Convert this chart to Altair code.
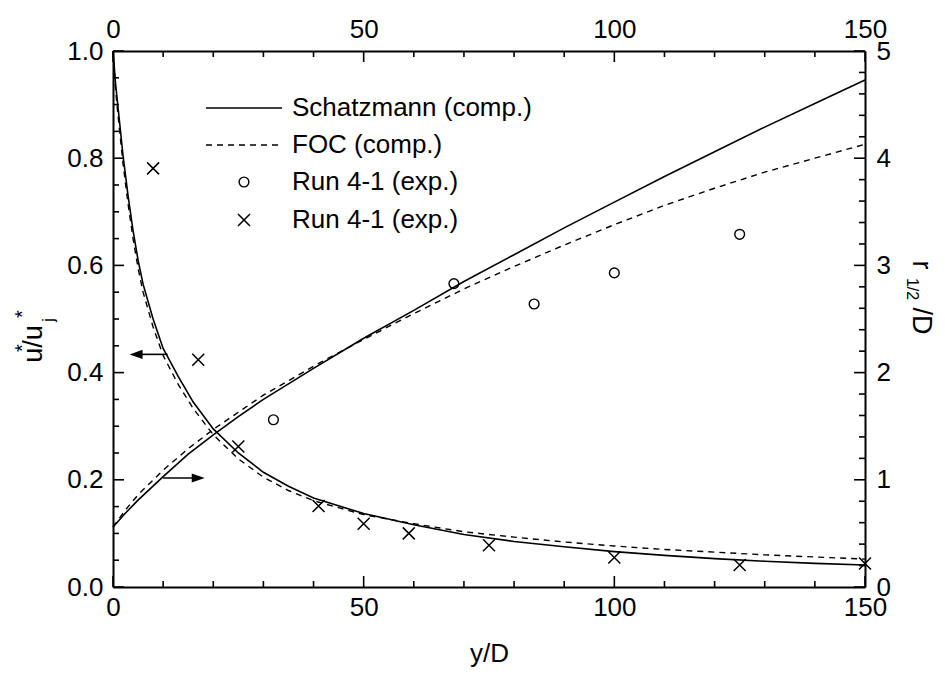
import altair as alt
import pandas as pd

FONT = "Liberation Sans"

# ---- data ----
x_decay = [0, 0.5, 1, 2, 3, 4, 5, 6, 8, 10, 13, 16, 20, 25, 30, 35, 40, 50, 60, 70, 80, 90, 100, 110, 120, 130, 140, 150]
schatz_u = [1.0, 0.94, 0.895, 0.805, 0.73, 0.665, 0.61, 0.565, 0.50, 0.445, 0.393, 0.345, 0.295, 0.25, 0.214, 0.188,
            0.166, 0.137, 0.116, 0.098, 0.085, 0.075, 0.066, 0.059, 0.053, 0.048, 0.044, 0.041]
foc_u = [1.0, 0.93, 0.88, 0.79, 0.715, 0.65, 0.595, 0.55, 0.485, 0.432, 0.378, 0.333, 0.284, 0.239, 0.205, 0.18,
         0.161, 0.135, 0.118, 0.103, 0.093, 0.084, 0.0765, 0.070, 0.065, 0.060, 0.056, 0.052]

x_grow = [0, 2.5, 5, 10, 15, 20, 25, 30, 40, 50, 60, 70, 80, 90, 100, 110, 120, 130, 140, 150]
schatz_r = [0.56, 0.69, 0.81, 1.03, 1.24, 1.42, 1.59, 1.75, 2.04, 2.32, 2.58, 2.85, 3.10, 3.35, 3.59, 3.83, 4.06,
            4.29, 4.51, 4.73]
foc_r = [0.56, 0.72, 0.86, 1.09, 1.29, 1.47, 1.63, 1.79, 2.06, 2.31, 2.55, 2.78, 2.99, 3.19, 3.38, 3.56, 3.72,
         3.87, 4.00, 4.13]

cross_x = [8, 17, 25, 41, 50, 59, 75, 100, 125, 150]
cross_u = [0.781, 0.424, 0.262, 0.151, 0.118, 0.100, 0.078, 0.055, 0.041, 0.044]
circ_x = [32, 68, 84, 100, 125]
circ_r = [1.56, 2.83, 2.64, 2.93, 3.29]

x_major = [0, 50, 100, 150]
x_minor = [10, 20, 30, 40, 60, 70, 80, 90, 110, 120, 130, 140]
yl_major = [0.0, 0.2, 0.4, 0.6, 0.8, 1.0]
yl_minor = [0.05, 0.1, 0.15, 0.25, 0.3, 0.35, 0.45, 0.5, 0.55, 0.65, 0.7, 0.75, 0.85, 0.9, 0.95]
yr_major = [0, 1, 2, 3, 4, 5]
yr_minor = [0.2, 0.4, 0.6, 0.8, 1.2, 1.4, 1.6, 1.8, 2.2, 2.4, 2.6, 2.8, 3.2, 3.4, 3.6, 3.8, 4.2, 4.4, 4.6, 4.8]

# arrows (annotation): left arrow on u-scale, right arrow on r-scale
arrowL_x = [10.9, 4.6]
arrowL_y = 0.434
arrowR_x = [10.0, 17.0]
arrowR_y = 1.017

legend_labels = ["Schatzmann (comp.)", "FOC (comp.)", "Run 4-1 (exp.)", "Run 4-1 (exp.)"]

W, H = 752, 536


def XS():
    return alt.Scale(domain=[0, 150], nice=False, zero=False)


def YL():
    return alt.Scale(domain=[0, 1], nice=False, zero=False)


def YR():
    return alt.Scale(domain=[0, 5], nice=False, zero=False)


AX = dict(grid=False, ticks=False, domain=True, domainColor="black", domainWidth=2,
          labelFont=FONT, labelFontSize=26, labelColor="black", labelOverlap=False, labelFlush=False)

df_dec = pd.DataFrame({"x": x_decay, "s": schatz_u, "f": foc_u})
df_gro = pd.DataFrame({"x": x_grow, "s": schatz_r, "f": foc_r})
df_cross = pd.DataFrame({"x": cross_x, "y": cross_u})
df_circ = pd.DataFrame({"x": circ_x, "y": circ_r})

layers = []

# decay curves (left axis, bottom axis)
layers.append(alt.Chart(df_dec).mark_line(color="black", strokeWidth=1.6).encode(
    x=alt.X("x:Q", scale=XS(), axis=alt.Axis(orient="bottom", values=x_major, format="d", labelPadding=7,
                                            title="y/D", titleFont=FONT, titleFontSize=26,
                                            titleFontWeight="normal", titleColor="black", titlePadding=20, **AX)),
    y=alt.Y("s:Q", scale=YL(), axis=alt.Axis(orient="left", values=yl_major, format=".1f", labelPadding=10,
                                            title=None, **AX)),
))
layers.append(alt.Chart(df_dec).mark_line(color="black", strokeWidth=1.4, strokeDash=[6, 5]).encode(
    x=alt.X("x:Q", scale=XS(), axis=None), y=alt.Y("f:Q", scale=YL(), axis=None)))

# growth curves (right axis, top axis)
layers.append(alt.Chart(df_gro).mark_line(color="black", strokeWidth=1.6).encode(
    x=alt.X("x:Q", scale=XS(), axis=alt.Axis(orient="top", values=x_major, format="d", labelPadding=9,
                                            title=None, **AX)),
    y=alt.Y("s:Q", scale=YR(), axis=alt.Axis(orient="right", values=yr_major, format="d", labelPadding=11,
                                            title=None, **AX)),
))
layers.append(alt.Chart(df_gro).mark_line(color="black", strokeWidth=1.4, strokeDash=[6, 5]).encode(
    x=alt.X("x:Q", scale=XS(), axis=None), y=alt.Y("f:Q", scale=YR(), axis=None)))

# experimental points
layers.append(alt.Chart(df_cross).mark_point(shape="M-1,-1L1,1M-1,1L1,-1", size=144, filled=False,
                                             color="black", strokeWidth=1.5, opacity=1).encode(
    x=alt.X("x:Q", scale=XS(), axis=None), y=alt.Y("y:Q", scale=YL(), axis=None)))
layers.append(alt.Chart(df_circ).mark_point(shape="circle", size=95, filled=False,
                                            color="black", strokeWidth=1.4, opacity=1).encode(
    x=alt.X("x:Q", scale=XS(), axis=None), y=alt.Y("y:Q", scale=YR(), axis=None)))

# arrows
dfAL = pd.DataFrame({"x": [arrowL_x[0]], "x2": [arrowL_x[1]], "y": [arrowL_y]})
dfAR = pd.DataFrame({"x": [arrowR_x[0]], "x2": [arrowR_x[1]], "y": [arrowR_y]})
layers.append(alt.Chart(dfAL).mark_rule(color="black", strokeWidth=1.6).encode(
    x=alt.X("x:Q", scale=XS(), axis=None), x2="x2:Q", y=alt.Y("y:Q", scale=YL(), axis=None)))
layers.append(alt.Chart(dfAL).mark_point(shape="M-1,0L1,-0.7L1,0.7Z", size=169, filled=True, color="black",
                                         opacity=1).encode(
    x=alt.X("x2:Q", scale=XS(), axis=None), y=alt.Y("y:Q", scale=YL(), axis=None)))
layers.append(alt.Chart(dfAR).mark_rule(color="black", strokeWidth=1.6).encode(
    x=alt.X("x:Q", scale=XS(), axis=None), x2="x2:Q", y=alt.Y("y:Q", scale=YR(), axis=None)))
layers.append(alt.Chart(dfAR).mark_point(shape="M1,0L-1,-0.7L-1,0.7Z", size=169, filled=True, color="black",
                                         opacity=1).encode(
    x=alt.X("x2:Q", scale=XS(), axis=None), y=alt.Y("y:Q", scale=YR(), axis=None)))


# inward ticks
def xticks(vals, length, top):
    d = pd.DataFrame({"v": vals})
    if top:
        yy, yy2 = alt.value(0), alt.value(length)
    else:
        yy, yy2 = alt.value(H), alt.value(H - length)
    return alt.Chart(d).mark_rule(color="black", strokeWidth=1.6).encode(
        x=alt.X("v:Q", scale=XS(), axis=None), y=yy, y2=yy2)


def yticks(vals, scale, length, right):
    d = pd.DataFrame({"v": vals})
    if right:
        xx, xx2 = alt.value(W), alt.value(W - length)
    else:
        xx, xx2 = alt.value(0), alt.value(length)
    return alt.Chart(d).mark_rule(color="black", strokeWidth=1.6).encode(
        y=alt.Y("v:Q", scale=scale, axis=None), x=xx, x2=xx2)


layers += [
    xticks(x_major, 11, False), xticks(x_minor, 6, False),
    xticks(x_major, 11, True), xticks(x_minor, 6, True),
    yticks(yl_major, YL(), 11, False), yticks(yl_minor, YL(), 6, False),
    yticks(yr_major, YR(), 11, True), yticks(yr_minor, YR(), 6, True),
]

one = pd.DataFrame({"a": [0]})


def txt(s, x, y, size=26, angle=0, align="left", baseline="middle"):
    kw = dict(text=s, font=FONT, fontSize=size, color="black", align=align, baseline=baseline)
    if angle:
        kw["angle"] = angle
    return alt.Chart(one).mark_text(**kw).encode(x=alt.value(x), y=alt.value(y))


# legend (drawn by hand)
LX0, LX1, LXT = 93, 169, 179
LY = [57, 94, 131, 169]
layers.append(alt.Chart(one).mark_rule(color="black", strokeWidth=1.6).encode(
    x=alt.value(LX0), x2=alt.value(LX1), y=alt.value(LY[0])))
layers.append(alt.Chart(one).mark_rule(color="black", strokeWidth=1.4, strokeDash=[6, 5]).encode(
    x=alt.value(LX0), x2=alt.value(LX1), y=alt.value(LY[1])))
layers.append(alt.Chart(one).mark_point(shape="circle", size=95, filled=False, color="black",
                                        strokeWidth=1.4, opacity=1).encode(
    x=alt.value((LX0 + LX1) / 2), y=alt.value(LY[2])))
layers.append(alt.Chart(one).mark_point(shape="M-1,-1L1,1M-1,1L1,-1", size=144, filled=False, color="black",
                                        strokeWidth=1.5, opacity=1).encode(
    x=alt.value((LX0 + LX1) / 2), y=alt.value(LY[3])))
for lab, yy in zip(legend_labels, LY):
    layers.append(txt(lab, LXT, yy))

# left axis title u*/uj* (rotated)
layers.append(txt("u/u", -71, 293, size=27, angle=270, align="center", baseline="alphabetic"))
layers.append(txt("*", -84, 297, size=20, angle=270, align="center", baseline="alphabetic"))
layers.append(txt("*", -84, 263, size=20, angle=270, align="center", baseline="alphabetic"))
layers.append(txt("j", -59, 269, size=16, angle=270, align="center", baseline="alphabetic"))

# right axis title r1/2/D (rotated)
layers.append(txt("r", 800, 214, size=27, angle=90, align="center", baseline="alphabetic"))
layers.append(txt("1/2", 794, 238, size=16, angle=90, align="center", baseline="alphabetic"))
layers.append(txt("/D", 800, 270, size=27, angle=90, align="center", baseline="alphabetic"))

chart = alt.layer(*layers).resolve_scale(x="independent", y="independent").properties(
    width=W, height=H,
    autosize=alt.AutoSizeParams(type="none"),
    padding={"left": 105, "top": 43, "right": 72, "bottom": 91},
).configure_view(stroke=None).configure(background="white")

chart.save("out.html", embed_options={"renderer": "svg", "actions": False})
